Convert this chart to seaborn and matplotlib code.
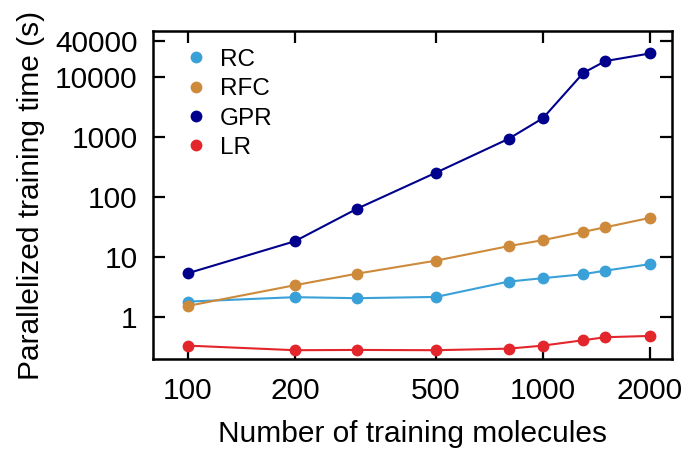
import numpy as np
import pandas as pd
import matplotlib
matplotlib.use("Agg")
import matplotlib.pyplot as plt
from matplotlib.lines import Line2D
from matplotlib.ticker import FixedLocator, FixedFormatter, NullLocator
import seaborn as sns

# Training-set sizes and parallelized training times (seconds)
n_molecules = [100, 200, 300, 500, 800, 1000, 1300, 1500, 2000]
time_rc = [1.78, 2.11, 2.03, 2.13, 3.84, 4.38, 5.1, 5.86, 7.5]
time_rfc = [1.51, 3.34, 5.22, 8.6, 15.0, 18.9, 26.0, 31.0, 44.4]
time_gpr = [5.3, 18.1, 63.5, 253, 926, 2050, 11700, 18400, 24600]
time_lr = [0.328, 0.275, 0.278, 0.275, 0.292, 0.328, 0.404, 0.453, 0.476]

models = ["RC", "RFC", "GPR", "LR"]
colors = ["#3aa0d8", "#cd8a3a", "#00008c", "#e3262b"]

x_ticks = [100, 200, 500, 1000, 2000]
x_ticklabels = ["100", "200", "500", "1000", "2000"]
y_ticks = [1, 10, 100, 1000, 10000, 40000]
y_ticklabels = ["1", "10", "100", "1000", "10000", "40000"]

df = pd.DataFrame({
    "n": n_molecules * 4,
    "t": time_rc + time_rfc + time_gpr + time_lr,
    "model": sum([[m] * len(n_molecules) for m in models], []),
})

sns.set_theme(style="ticks")
plt.rcParams["font.family"] = ["Liberation Sans", "DejaVu Sans"]
plt.rcParams["text.color"] = "black"
plt.rcParams["axes.labelcolor"] = "black"

MS = 8.5
LW = 1.5

fig = plt.figure(figsize=(6.88, 4.49), dpi=100)
ax = fig.add_axes([0.2224, 0.2004, 0.7543, 0.7306])

sns.lineplot(data=df, x="n", y="t", hue="model", hue_order=models,
             palette=dict(zip(models, colors)), marker="o",
             markeredgewidth=0, ax=ax, legend=False)
for line in ax.lines:
    line.set_linewidth(LW)
    line.set_markersize(MS)
    line.set_markeredgewidth(0)

ax.set_xscale("log")
ax.set_yscale("log")
ax.set_xlim(79.7, 2309)
ax.set_ylim(0.196, 58400)

ax.xaxis.set_major_locator(FixedLocator(x_ticks))
ax.xaxis.set_major_formatter(FixedFormatter(x_ticklabels))
ax.yaxis.set_major_locator(FixedLocator(y_ticks))
ax.yaxis.set_major_formatter(FixedFormatter(y_ticklabels))
ax.xaxis.set_minor_locator(NullLocator())
ax.yaxis.set_minor_locator(NullLocator())

ax.tick_params(axis="both", which="major", direction="in", length=8.5, width=1.6,
               labelsize=21.5, colors="black", top=True, right=True,
               labelcolor="black")
ax.tick_params(axis="x", pad=13)
ax.tick_params(axis="y", pad=11)
for s in ax.spines.values():
    s.set_linewidth(1.8)
    s.set_color("black")

ax.set_xlabel("Number of training molecules", fontsize=21.5, labelpad=11, color="black")
ax.set_ylabel("Parallelized training time (s)", fontsize=21.5, labelpad=7, color="black")

handles = [Line2D([], [], linestyle="", marker="o", markersize=MS,
                  markeredgewidth=0, color=c, label=m)
           for m, c in zip(models, colors)]
leg = ax.legend(handles=handles, loc="upper left", bbox_to_anchor=(0.04, 0.975),
                frameon=False, fontsize=17.5, handletextpad=0.5, labelspacing=0.3,
                handlelength=1.0, borderaxespad=0.0)
for t in leg.get_texts():
    t.set_color("black")

fig.savefig("out.png", dpi=100)
